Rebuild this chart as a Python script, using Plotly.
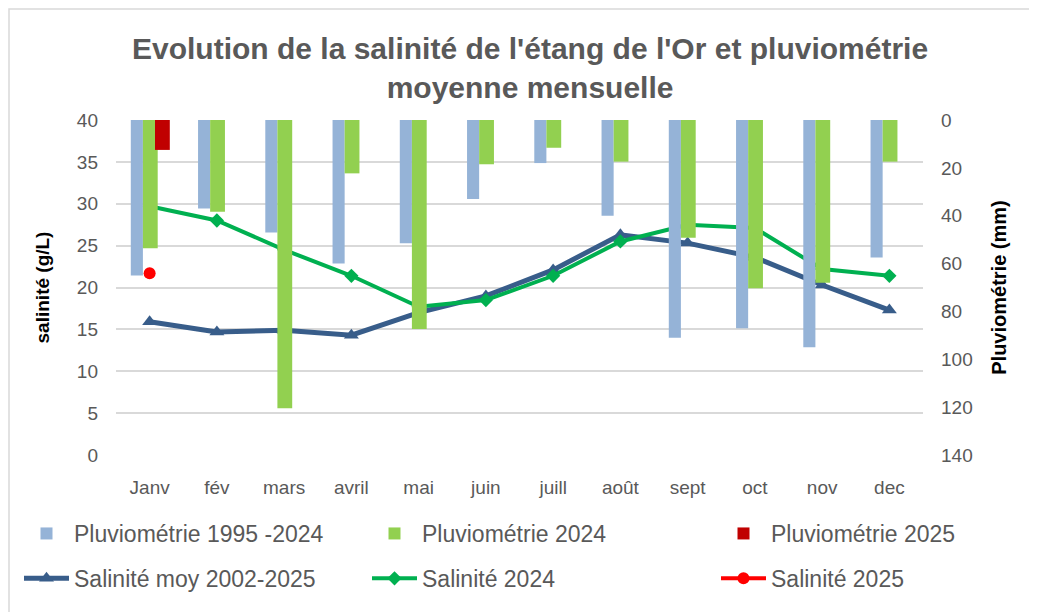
import plotly.graph_objects as go

months = ["Janv", "fév", "mars", "avril", "mai", "juin", "juill", "août", "sept", "oct", "nov", "dec"]
pluvio_1995_2024 = [65, 37, 47, 60, 51.5, 33, 18, 40, 91, 87, 95, 57.5]
pluvio_2024 = [53.6, 38.3, 120.5, 22.3, 87.3, 18.5, 11.6, 17.4, 49.2, 70.3, 68, 17.4]
pluvio_2025 = [12.5]
sal_moy = [15.9, 14.7, 14.9, 14.3, 17.0, 19.0, 22.1, 26.3, 25.3, 23.6, 20.3, 17.3]
sal_2024 = [29.7, 28.0, 24.5, 21.4, 17.7, 18.5, 21.4, 25.5, 27.5, 27.1, 22.2, 21.4]
sal_2025 = [21.7]

FONT = "Liberation Sans"
GRAY = "#595959"
# page has an 8px body margin: the figure starts at (8, 8)
OX, OY = 8, 8
W, H = 1037 - OX, 612 - OY
L, R = 116 - OX, 1037 - 923
T, B = 120 - OY, 612 - 455
PW, PH = W - L - R, H - T - B


def px_x(p):
    return (p - OX - L) / PW


def px_y(p):
    return (H + OY - B - p) / PH


fig = go.Figure()
fig.add_trace(go.Bar(x=months, y=pluvio_1995_2024, name="Pluviométrie 1995 -2024",
                     marker=dict(color="#95B3D7", line=dict(width=0)),
                     width=0.18, offset=-0.28, yaxis="y2", legend="legend", legendgroup="a"))
fig.add_trace(go.Bar(x=months, y=pluvio_2024, name="Pluviométrie 2024",
                     marker=dict(color="#92D050", line=dict(width=0)),
                     width=0.22, offset=-0.10, yaxis="y2", legend="legend2", legendgroup="b"))
fig.add_trace(go.Bar(x=months[:1], y=pluvio_2025, name="Pluviométrie 2025",
                     marker=dict(color="#C00000", line=dict(width=0)),
                     width=0.22, offset=0.08, yaxis="y2", legend="legend3", legendgroup="c"))
fig.add_trace(go.Scatter(x=months, y=sal_moy, name="Salinité moy 2002-2025", mode="lines+markers",
                         line=dict(color="#385D8A", width=5),
                         marker=dict(symbol="triangle-up", size=13, color="#385D8A"),
                         legend="legend", legendgroup="d"))
fig.add_trace(go.Scatter(x=months, y=sal_2024, name="Salinité 2024", mode="lines+markers",
                         line=dict(color="#00B050", width=4),
                         marker=dict(symbol="diamond", size=11, color="#00B050"),
                         legend="legend2", legendgroup="e"))
fig.add_trace(go.Scatter(x=months[:1], y=sal_2025, name="Salinité 2025", mode="lines+markers",
                         line=dict(color="#FF0000", width=4),
                         marker=dict(symbol="circle", size=12, color="#FF0000"),
                         legend="legend3", legendgroup="f"))

leg_common = dict(orientation="v", yanchor="top", xanchor="left", y=px_y(512),
                  font=dict(family=FONT, size=23, color=GRAY), traceorder="grouped",
                  itemwidth=45, tracegroupgap=12, bgcolor="rgba(0,0,0,0)")

fig.update_layout(
    width=W, height=H,
    margin=dict(l=L, r=R, t=T, b=B, autoexpand=False),
    paper_bgcolor="white", plot_bgcolor="white",
    font=dict(family=FONT, color=GRAY, size=18),
    barmode="overlay",
    showlegend=True,
    legend=dict(x=px_x(19), **leg_common),
    legend2=dict(x=px_x(367), **leg_common),
    legend3=dict(x=px_x(716), **leg_common),
    xaxis=dict(type="category", showgrid=False, showline=False, ticks="",
               tickfont=dict(size=19, color=GRAY), range=[-0.5, 11.5], ticklabelstandoff=19),
    yaxis=dict(range=[0, 40], dtick=5, showgrid=True, gridcolor="#D9D9D9", gridwidth=2,
               zeroline=False, showline=False, ticks="", ticklabelstandoff=17,
               tickfont=dict(size=19, color=GRAY),
               title=dict(text="<b>salinité (g/L)</b>", font=dict(size=19, color="black"), standoff=22)),
    yaxis2=dict(overlaying="y", side="right", range=[140, 0], dtick=20, showgrid=False,
                zeroline=False, showline=False, ticks="", ticklabelstandoff=17,
                tickfont=dict(size=19, color=GRAY),
                title=dict(text="<b>Pluviométrie (mm)</b>", font=dict(size=20, color="black"), standoff=20)),
    annotations=[dict(text="<b>Evolution de la salinité de l'étang de l'Or et pluviométrie<br>moyenne mensuelle</b>",
                      xref="paper", yref="paper", x=px_x(530), y=px_y(30),
                      xanchor="center", yanchor="top", showarrow=False,
                      font=dict(family=FONT, size=30, color=GRAY), align="center")],
    shapes=[dict(type="rect", xref="paper", yref="paper",
                 x0=px_x(9), x1=px_x(1040), y0=px_y(620), y1=px_y(9),
                 line=dict(color="#D9D9D9", width=1.5), fillcolor="rgba(0,0,0,0)", layer="below")],
)

fig.write_html("out.html")
